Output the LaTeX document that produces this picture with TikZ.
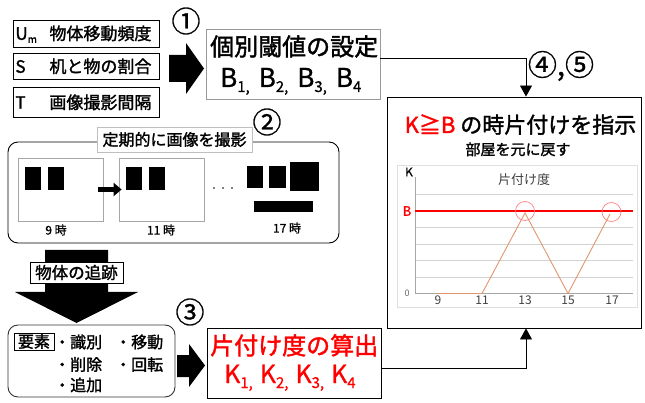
\documentclass[tikz,border=0pt]{standalone}
\usepackage{fontspec}
\setmainfont{Noto Sans CJK JP}
\newfontfamily\mb{Noto Sans CJK JP}[FakeBold=1.6]
\newfontfamily\lb{Noto Sans CJK JP}[FakeBold=0.8]
\usetikzlibrary{arrows.meta}
\newcommand\sbx[1]{\raisebox{-5pt}{\fontsize{15}{15}\selectfont #1}}
\newcommand\sbm[1]{\raisebox{-3pt}{\fontsize{10}{10}\selectfont #1}}
\definecolor{dataline}{RGB}{225,150,110}
\begin{document}
\begin{tikzpicture}[x=1pt,y=-1pt,
  lbox/.style={draw=black, line width=0.9pt, anchor=west, inner xsep=2pt, inner ysep=0pt, text width=142pt, align=left, font=\fontsize{17}{20}\selectfont\mb},
  cnum/.style={inner sep=0pt, font=\fontsize{29}{29}\selectfont\lb},
  conn/.style={draw=black, line width=0.9pt, -{Triangle[length=11pt,width=12pt]}},
  plainbox/.style={draw=black, line width=0.9pt, inner sep=0pt},
  imgbox/.style={draw=gray!70, line width=0.8pt, minimum width=85pt, minimum height=63pt, inner sep=0pt},
  tlabel/.style={inner sep=0pt, font=\fontsize{12}{12}\selectfont\lb},
  clabel/.style={inner sep=0pt, font=\fontsize{12}{12}\selectfont, text=black!75},
  bullet/.style={anchor=west, inner sep=0pt, font=\fontsize{16}{16}\selectfont\mb}
]
\useasboundingbox (0,0) rectangle (645,403);

% --- section 1
\node[lbox, minimum height=27pt] (um) at (13,34.2) {\makebox[34pt][l]{U\sbm{m}}物体移動頻度};
\node[lbox, minimum height=26pt] (s) at (13,66.3) {\makebox[34pt][l]{S}机と物の割合};
\node[lbox, minimum height=30pt] (t) at (13,102.3) {\makebox[34pt][l]{T}画像撮影間隔};
\fill (169,55) -- (186,55) -- (186,43) -- (204,68.5) -- (186,94) -- (186,82) -- (169,82) -- cycle;
\node[cnum] (c1) at (186,21) {①};
\node[draw=gray!80, line width=0.9pt, minimum width=174pt, minimum height=70pt, inner sep=0pt] (bbox) at (293,64.3) {};
\node[anchor=base west, inner sep=0pt, font=\fontsize{24}{24}\selectfont\mb] (bt1) at (210,55.5) {個別閾値の設定};
\node[anchor=base west, inner sep=0pt, font=\fontsize{26}{26}\selectfont\lb] (bt2) at (220,87) {B\sbx{1,}\hspace{9pt}B\sbx{2,}\hspace{9pt}B\sbx{3,}\hspace{9pt}B\sbx{4}};
\node[cnum] (c45) at (561,66) {④,⑤};

% --- right box
\node[plainbox, minimum width=254pt, minimum height=231pt] (rbox) at (514,212.5) {};
\draw[conn] ([yshift=6.3pt]bbox.east) -| ([xshift=12pt]rbox.north);
\node[anchor=base, inner sep=0pt, font=\fontsize{22}{22}\selectfont\mb] (rt1) at (520.5,133) {\textcolor{red}{K≧B} の時片付けを指示};
\node[anchor=base, inner sep=0pt, font=\fontsize{15}{15}\selectfont\mb] (rt2) at (518,155) {部屋を元に戻す};

% chart
\node[draw=gray!25, line width=0.8pt, minimum width=240pt, minimum height=142pt, inner sep=0pt] (chart) at (517,236) {};
\foreach \yy in {194.3,227.5,244,260.5,277}
  \draw[gray!35, line width=0.7pt] (415,\yy) -- (633,\yy);
\draw[gray!70, line width=0.8pt] (415,177) -- (415,293.5) -- (633,293.5);
\draw[red, line width=1.2pt] (415,211) -- (633,211);
\draw[dataline, line width=0.9pt] (438,293.5) -- (482,293.5) -- (525,213) -- (568,293.5) -- (610,214);
\draw[red!50, line width=0.7pt] (525,211) circle[radius=9.5];
\draw[red!50, line width=0.7pt] (611.5,212) circle[radius=9.5];
\node[tlabel] (ck) at (409,172) {K};
\node[clabel, font=\fontsize{13}{13}\selectfont] (ct) at (524,180) {片付け度};
\node[inner sep=0pt, text=red, font=\fontsize{13}{13}\selectfont\mb] (cb) at (407,211) {B};
\node[inner sep=0pt, text=black!60, font=\fontsize{9}{9}\selectfont] (c0) at (407,293) {0};
\node[clabel] (x9) at (438,300.5) {9};
\node[clabel] (x11) at (482,300.5) {11};
\node[clabel] (x13) at (525,300.5) {13};
\node[clabel] (x15) at (568,300.5) {15};
\node[clabel] (x17) at (612,300.5) {17};

% --- section 2
\node[draw=black, line width=0.9pt, rounded corners=10pt, minimum width=331pt, minimum height=101pt, inner sep=0pt] (sec2) at (173.5,192.5) {};
\node[draw=gray!50, fill=white, line width=0.8pt, minimum width=155pt, minimum height=25pt, inner sep=0pt, font=\fontsize{16}{16}\selectfont\mb] (sec2t) at (174.5,139.5) {定期的に画像を撮影};
\node[cnum] (c2) at (267,122) {②};
\node[imgbox] (img9) at (60.5,189.5) {};
\node[imgbox] (img11) at (161.5,189.5) {};
\fill (25,167) rectangle (41,190);
\fill (48,167) rectangle (64,190);
\fill (126,167) rectangle (142,190);
\fill (149,167) rectangle (165,190);
\fill (247,166) rectangle (263,188);
\fill (269,166) rectangle (286,188);
\fill (290,162) rectangle (319,191);
\fill (254,201) rectangle (313,212);
\draw[line width=5pt, -{Triangle[length=8pt,width=13pt]}] ([xshift=-5pt]img9.east) -- ([xshift=3pt]img11.west);
\fill (214,188) circle[radius=0.9];
\fill (223,188) circle[radius=0.9];
\fill (232,188) circle[radius=0.9];
\node[tlabel] (l9) at (56,230) {9 時};
\node[tlabel] (l11) at (161,230) {11 時};
\node[tlabel] (l17) at (287,228) {17 時};

% --- tracking arrow
\fill (45,250) -- (108,250) -- (108,292) -- (138,292) -- (76.5,323) -- (15,292) -- (45,292) -- cycle;
\node[draw=black, fill=white, line width=0.9pt, minimum width=93pt, minimum height=21pt, inner sep=0pt, font=\fontsize{16.5}{16.5}\selectfont\mb] (track) at (76.5,272.5) {物体の追跡};

% --- section 3
\node[draw=black!80, line width=0.9pt, rounded corners=10pt, minimum width=167pt, minimum height=72pt, inner sep=0pt] (elem) at (91.5,361) {};
\node[draw=black, line width=0.8pt, minimum width=40pt, minimum height=17pt, inner sep=0pt, font=\fontsize{16}{16}\selectfont\mb] (yoso) at (34,341.5) {要素};
\node[bullet] (b1) at (54,342) {・識別};
\node[bullet] (b2) at (115,342) {・移動};
\node[bullet] (b3) at (54,364.5) {・削除};
\node[bullet] (b4) at (115,364.5) {・回転};
\node[bullet] (b5) at (54,385) {・追加};
\fill (177,355) -- (189,355) -- (189,344) -- (205,365.5) -- (189,387) -- (189,377) -- (177,377) -- cycle;
\node[cnum] (c3) at (190,312) {③};
\node[plainbox, minimum width=174pt, minimum height=70pt] (kbox) at (294,363) {};
\node[anchor=base west, inner sep=0pt, text=red, font=\fontsize{24}{24}\selectfont\mb] (kt1) at (210,354.5) {片付け度の算出};
\node[anchor=base west, inner sep=0pt, text=red, font=\fontsize{25}{25}\selectfont\lb] (kt2) at (224,383) {K\sbx{1,}\hspace{7pt}K\sbx{2,}\hspace{7pt}K\sbx{3,}\hspace{7pt}K\sbx{4}};
\draw[conn] ([yshift=-5pt]kbox.east) -| ([xshift=12pt]rbox.south);
\end{tikzpicture}
\end{document}
